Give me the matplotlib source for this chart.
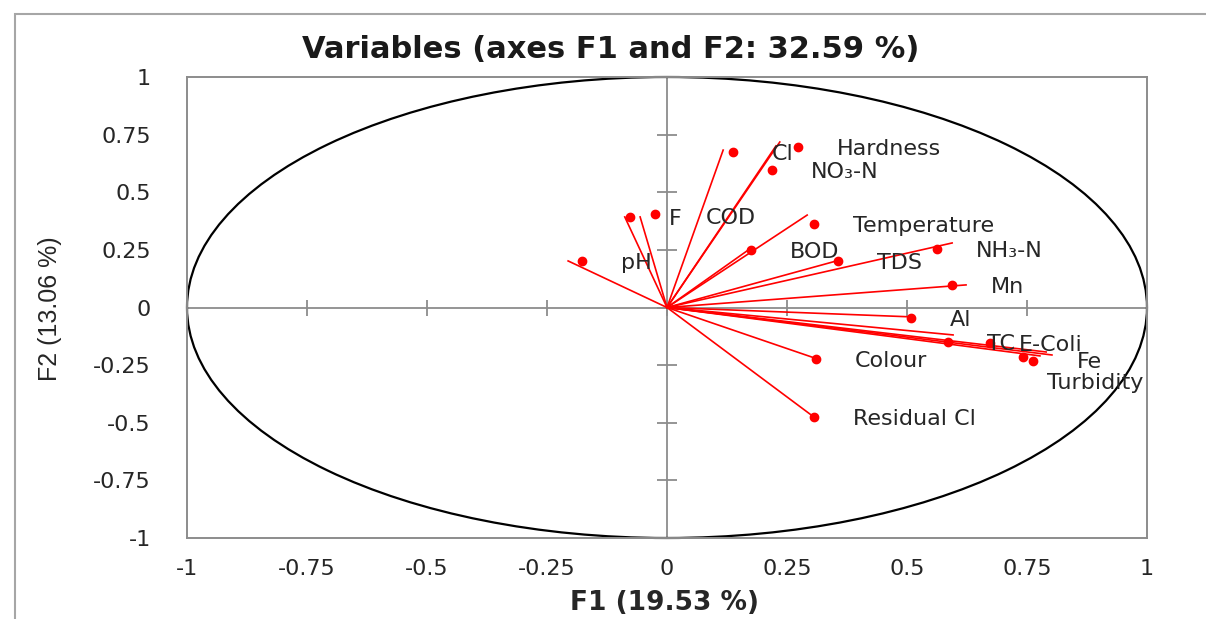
import matplotlib.pyplot as plt
import matplotlib.patches as mpatches
import numpy as np

# correlation circle, variables on F1 / F2
variables = ["pH", "F", "COD", "Cl", "Hardness", "NO₃-N", "Temperature", "BOD", "TDS",
             "NH₃-N", "Mn", "Al", "TC", "E-Coli", "Turbidity", "Fe", "Colour", "Residual Cl"]
f1 = [-0.177, -0.077, -0.025, 0.138, 0.273, 0.219, 0.306, 0.175, 0.356,
      0.563, 0.594, 0.508, 0.585, 0.673, 0.742, 0.763, 0.310, 0.306]
f2 = [0.202, 0.393, 0.406, 0.675, 0.696, 0.597, 0.362, 0.249, 0.202,
      0.254, 0.098, -0.046, -0.150, -0.154, -0.215, -0.232, -0.223, -0.475]

# arrow tips as drawn in the source (they do not sit exactly on the markers)
vec_f1 = [-0.206, -0.088, -0.056, 0.117, 0.235, 0.227, 0.292, 0.169, 0.360,
          0.594, 0.623, 0.513, 0.596, 0.802, 0.777, 0.790, 0.313, 0.306]
vec_f2 = [0.202, 0.393, 0.393, 0.683, 0.718, 0.701, 0.401, 0.249, 0.206,
          0.280, 0.098, -0.041, -0.119, -0.206, -0.210, -0.193, -0.223, -0.475]

tick_values = [-1, -0.75, -0.5, -0.25, 0, 0.25, 0.5, 0.75, 1]
tick_labels = ["-1", "-0.75", "-0.5", "-0.25", "0", "0.25", "0.5", "0.75", "1"]

title = "Variables (axes F1 and F2: 32.59 %)"
xlabel = "F1 (19.53 %)"
ylabel = "F2 (13.06 %)"

W, H = 1206, 619
fig = plt.figure(figsize=(W / 100, H / 100), dpi=100)
ax = fig.add_axes([187 / W, 1 - 538 / H, 960 / W, 461 / H])
ax.set_xlim(-1, 1)
ax.set_ylim(-1, 1)

grey = "#8c8c8c"
for sp in ax.spines.values():
    sp.set_color(grey)
    sp.set_linewidth(1.4)

# outer chart-area frame (runs off the right and bottom edges)
fig.add_artist(mpatches.Rectangle((15 / W, -0.2), 1.3, 1.2 - 14 / H, transform=fig.transFigure,
                                  fill=False, ec="#a6a6a6", lw=1.5))

# axes through the origin with crossing tick marks
ax.axhline(0, color=grey, lw=1.3, zorder=1)
ax.axvline(0, color=grey, lw=1.3, zorder=1)
ax.plot(np.zeros(len(tick_values)), tick_values, ls="none", marker="_", ms=14, mew=1.3,
        color=grey, zorder=1)
ax.plot(tick_values, np.zeros(len(tick_values)), ls="none", marker="|", ms=12, mew=1.3,
        color=grey, zorder=1)

# unit circle
ax.add_patch(mpatches.Circle((0, 0), 1, fill=False, ec="black", lw=1.6, clip_on=False, zorder=2))

# vectors and markers
for vx, vy in zip(vec_f1, vec_f2):
    ax.plot([0, vx], [0, vy], color="red", lw=1.2, zorder=3)
ax.plot(f1, f2, ls="none", marker="o", ms=6, color="red", zorder=4)

label_nudge = {"COD": (12, -2), "Fe": (5, 1), "Turbidity": (-15, -24), "E-Coli": (-10, 0)}
for name, x, y in zip(variables, f1, f2):
    dx, dy = label_nudge.get(name, (0, 0))
    ax.annotate(name, (x, y), xytext=(39 + dx, -2 + dy), textcoords="offset pixels",
                fontsize=16, ha="left", va="center", color="#262626", zorder=5)

ax.set_xticks(tick_values, tick_labels)
ax.set_yticks(tick_values, tick_labels)
ax.tick_params(length=0, labelsize=16, labelcolor="#262626")
ax.tick_params(axis="x", pad=15)
ax.tick_params(axis="y", pad=26)

fig.text(611 / W, 1 - 50 / H, title, ha="center", va="center", fontsize=22,
         fontweight="bold", color="#1a1a1a")
fig.text(665 / W, 1 - 603 / H, xlabel, ha="center", va="center", fontsize=19,
         fontweight="bold", color="#262626")
fig.text(50 / W, 1 - 309 / H, ylabel, ha="center", va="center", rotation=90, fontsize=18,
         family=["Liberation Sans", "DejaVu Sans"], color="#262626")

fig.savefig("out.png", dpi=100, facecolor="white")
